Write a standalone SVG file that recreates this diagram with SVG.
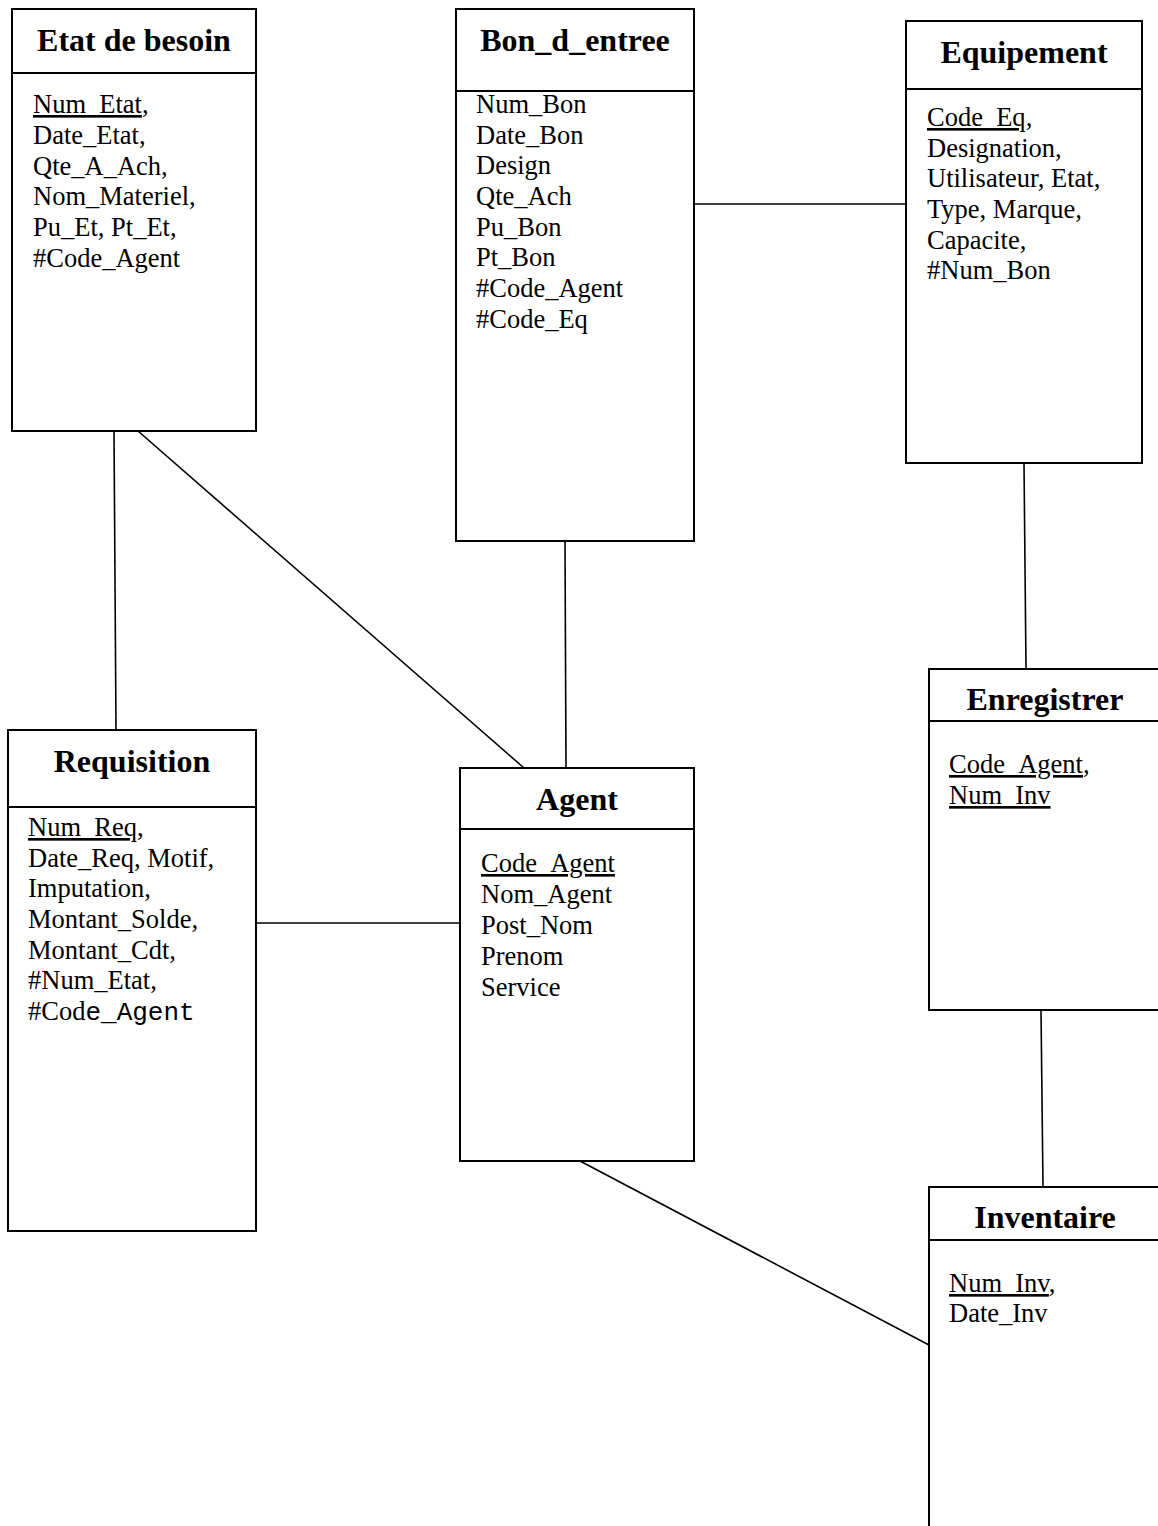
<svg xmlns="http://www.w3.org/2000/svg" width="1158" height="1526" viewBox="0 0 1158 1526">
<style>
.box{fill:#fff;stroke:#000;stroke-width:2}
.sep{stroke:#000;stroke-width:2}
.title{font-family:"Liberation Serif",serif;font-weight:bold;font-size:32px;text-anchor:middle;fill:#000}
.attr{font-family:"Liberation Serif",serif;font-size:26.5px;fill:#000}
.mono{font-family:"Liberation Mono",monospace;font-size:26px}
.u{text-decoration:underline}
.conn line{stroke:#000;stroke-width:1.6}
</style>
<rect width="1158" height="1526" fill="#fff"/>
<g class="conn" id="connectors">
<line x1="114" y1="431" x2="116" y2="730"/>
<line x1="138" y1="431" x2="524" y2="768"/>
<line x1="565" y1="541" x2="566" y2="768"/>
<line x1="694" y1="204" x2="906" y2="204"/>
<line x1="1024" y1="463" x2="1026" y2="669"/>
<line x1="1041" y1="1010" x2="1043" y2="1187"/>
<line x1="256" y1="923" x2="460" y2="923"/>
<line x1="580" y1="1161" x2="929" y2="1345"/>
</g>
<g id="etat">
<rect class="box" x="12" y="9" width="244" height="422"/>
<line class="sep" x1="12" y1="73" x2="256" y2="73"/>
<text class="title" x="134" y="51">Etat de besoin</text>
<text class="attr" x="33" y="113"><tspan class="u">Num_Etat</tspan>,</text>
<text class="attr" x="33" y="144">Date_Etat,</text>
<text class="attr" x="33" y="175">Qte_A_Ach,</text>
<text class="attr" x="33" y="205">Nom_Materiel,</text>
<text class="attr" x="33" y="236">Pu_Et, Pt_Et,</text>
<text class="attr" x="33" y="267">#Code_Agent</text>
</g>
<g id="bon">
<rect class="box" x="456" y="9" width="238" height="532"/>
<line class="sep" x1="456" y1="91" x2="694" y2="91"/>
<text class="title" x="575" y="51">Bon_d_entree</text>
<text class="attr" x="476" y="113">Num_Bon</text>
<text class="attr" x="476" y="144">Date_Bon</text>
<text class="attr" x="476" y="174">Design</text>
<text class="attr" x="476" y="205">Qte_Ach</text>
<text class="attr" x="476" y="236">Pu_Bon</text>
<text class="attr" x="476" y="266">Pt_Bon</text>
<text class="attr" x="476" y="297">#Code_Agent</text>
<text class="attr" x="476" y="328">#Code_Eq</text>
</g>
<g id="equipement">
<rect class="box" x="906" y="21" width="236" height="442"/>
<line class="sep" x1="906" y1="89" x2="1142" y2="89"/>
<text class="title" x="1024" y="63">Equipement</text>
<text class="attr" x="927" y="126"><tspan class="u">Code_Eq</tspan>,</text>
<text class="attr" x="927" y="157">Designation,</text>
<text class="attr" x="927" y="187">Utilisateur, Etat,</text>
<text class="attr" x="927" y="218">Type, Marque,</text>
<text class="attr" x="927" y="249">Capacite,</text>
<text class="attr" x="927" y="279">#Num_Bon</text>
</g>
<g id="requisition">
<rect class="box" x="8" y="730" width="248" height="501"/>
<line class="sep" x1="8" y1="807" x2="256" y2="807"/>
<text class="title" x="132" y="772">Requisition</text>
<text class="attr" x="28" y="836"><tspan class="u">Num_Req</tspan>,</text>
<text class="attr" x="28" y="867">Date_Req, Motif,</text>
<text class="attr" x="28" y="897">Imputation,</text>
<text class="attr" x="28" y="928">Montant_Solde,</text>
<text class="attr" x="28" y="959">Montant_Cdt,</text>
<text class="attr" x="28" y="989">#Num_Etat,</text>
<text class="attr" x="28" y="1020">#Cod<tspan class="mono">e_Agent</tspan></text>
</g>
<g id="agent">
<rect class="box" x="460" y="768" width="234" height="393"/>
<line class="sep" x1="460" y1="829" x2="694" y2="829"/>
<text class="title" x="577" y="810">Agent</text>
<text class="attr" x="481" y="872"><tspan class="u">Code_Agent</tspan></text>
<text class="attr" x="481" y="903">Nom_Agent</text>
<text class="attr" x="481" y="934">Post_Nom</text>
<text class="attr" x="481" y="965">Prenom</text>
<text class="attr" x="481" y="996">Service</text>
</g>
<g id="enregistrer">
<rect class="box" x="929" y="669" width="240" height="341"/>
<line class="sep" x1="929" y1="721" x2="1169" y2="721"/>
<text class="title" x="1045" y="710">Enregistrer</text>
<text class="attr" x="949" y="773"><tspan class="u">Code_Agent</tspan>,</text>
<text class="attr" x="949" y="804"><tspan class="u">Num_Inv</tspan></text>
</g>
<g id="inventaire">
<rect class="box" x="929" y="1187" width="240" height="360"/>
<line class="sep" x1="929" y1="1240" x2="1169" y2="1240"/>
<text class="title" x="1045" y="1228">Inventaire</text>
<text class="attr" x="949" y="1292"><tspan class="u">Num_Inv</tspan>,</text>
<text class="attr" x="949" y="1322">Date_Inv</text>
</g>
</svg>
